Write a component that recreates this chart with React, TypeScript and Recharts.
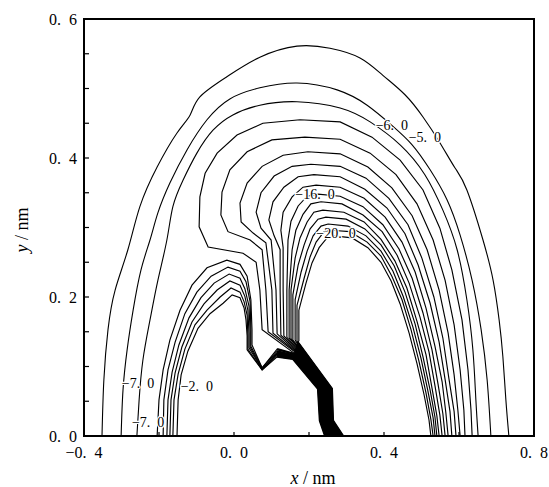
import { LineChart, Line, XAxis, YAxis, ReferenceArea } from 'recharts';

type Pt = [number, number];

// outer arches, x / nm, y / nm
const arch5: Pt[] = [[-0.352,0],[-0.347,0.081],[-0.336,0.153],[-0.317,0.21],[-0.283,0.268],[-0.251,0.33],[-0.205,0.387],[-0.152,0.436],[-0.117,0.462],[-0.091,0.488],[-0.019,0.517],[0.069,0.545],[0.168,0.561],[0.256,0.558],[0.336,0.544],[0.397,0.519],[0.456,0.491],[0.504,0.459],[0.549,0.422],[0.589,0.386],[0.621,0.354],[0.664,0.282],[0.691,0.224],[0.707,0.167],[0.717,0.114],[0.725,0.052],[0.733,0]];
const arch6: Pt[] = [[-0.301,0],[-0.296,0.066],[-0.285,0.124],[-0.269,0.181],[-0.248,0.239],[-0.224,0.282],[-0.203,0.321],[-0.171,0.364],[-0.125,0.412],[-0.072,0.455],[-0.011,0.485],[0.069,0.501],[0.168,0.508],[0.275,0.498],[0.355,0.476],[0.421,0.447],[0.475,0.419],[0.523,0.383],[0.568,0.34],[0.603,0.289],[0.635,0.224],[0.659,0.153],[0.675,0.081],[0.685,0]];
const arch7: Pt[] = [[-0.259,0],[-0.253,0.052],[-0.243,0.109],[-0.224,0.167],[-0.203,0.224],[-0.179,0.282],[-0.163,0.33],[-0.136,0.368],[-0.099,0.407],[-0.056,0.44],[-0.003,0.462],[0.069,0.476],[0.168,0.481],[0.283,0.472],[0.363,0.452],[0.443,0.419],[0.509,0.376],[0.557,0.325],[0.595,0.268],[0.621,0.196],[0.637,0.124],[0.645,0.052],[0.651,0]];

// inner hooks: right foot, over the top, down into the dense band
const hook8: Pt[] = [[0.635,0],[0.632,0.037],[0.624,0.095],[0.608,0.167],[0.581,0.239],[0.549,0.299],[0.504,0.354],[0.443,0.397],[0.368,0.43],[0.283,0.452],[0.176,0.455],[0.077,0.45],[0.008,0.433],[-0.045,0.407],[-0.077,0.378],[-0.091,0.344],[-0.093,0.301],[-0.069,0.272],[0.024,0.263],[0.059,0.25],[0.069,0.21],[0.075,0.153],[0.161,0.119],[0.236,0.068],[0.241,0.022],[0.259,0]];
const hook9: Pt[] = [[0.616,0],[0.613,0.037],[0.603,0.095],[0.587,0.16],[0.563,0.224],[0.531,0.282],[0.488,0.334],[0.432,0.376],[0.363,0.407],[0.283,0.427],[0.189,0.43],[0.101,0.426],[0.035,0.409],[-0.011,0.383],[-0.032,0.351],[-0.035,0.318],[-0.016,0.294],[0.043,0.282],[0.075,0.268],[0.085,0.21],[0.091,0.15],[0.162,0.121],[0.239,0.068],[0.242,0.022],[0.262,0]];
const hook10: Pt[] = [[0.603,0],[0.597,0.037],[0.587,0.088],[0.571,0.148],[0.547,0.21],[0.515,0.268],[0.475,0.317],[0.421,0.357],[0.357,0.387],[0.283,0.406],[0.197,0.409],[0.131,0.404],[0.075,0.388],[0.035,0.364],[0.016,0.335],[0.019,0.308],[0.051,0.292],[0.085,0.278],[0.101,0.21],[0.104,0.148],[0.163,0.122],[0.241,0.068],[0.244,0.022],[0.264,0]];
const hook11: Pt[] = [[0.592,0],[0.587,0.035],[0.573,0.083],[0.557,0.141],[0.533,0.2],[0.501,0.256],[0.464,0.304],[0.413,0.342],[0.352,0.371],[0.283,0.388],[0.205,0.391],[0.155,0.388],[0.107,0.374],[0.072,0.35],[0.059,0.322],[0.072,0.299],[0.099,0.282],[0.112,0.21],[0.115,0.147],[0.164,0.123],[0.243,0.068],[0.246,0.022],[0.267,0]];
const hook12: Pt[] = [[0.581,0],[0.576,0.035],[0.563,0.081],[0.547,0.135],[0.523,0.191],[0.491,0.246],[0.456,0.291],[0.408,0.328],[0.349,0.355],[0.283,0.373],[0.213,0.376],[0.171,0.373],[0.133,0.358],[0.104,0.337],[0.093,0.311],[0.107,0.288],[0.123,0.268],[0.123,0.21],[0.125,0.145],[0.164,0.125],[0.245,0.068],[0.248,0.022],[0.27,0]];
const hook13: Pt[] = [[0.571,0],[0.565,0.033],[0.555,0.078],[0.536,0.129],[0.512,0.184],[0.483,0.236],[0.448,0.279],[0.403,0.315],[0.347,0.342],[0.283,0.358],[0.219,0.361],[0.184,0.358],[0.155,0.344],[0.131,0.322],[0.125,0.296],[0.131,0.271],[0.131,0.21],[0.133,0.144],[0.165,0.126],[0.247,0.068],[0.25,0.022],[0.272,0]];
const hook14: Pt[] = [[0.563,0],[0.557,0.032],[0.544,0.075],[0.528,0.124],[0.504,0.177],[0.475,0.227],[0.44,0.269],[0.397,0.304],[0.344,0.33],[0.283,0.345],[0.224,0.348],[0.195,0.345],[0.171,0.331],[0.152,0.309],[0.144,0.282],[0.141,0.21],[0.141,0.142],[0.166,0.127],[0.249,0.068],[0.252,0.022],[0.275,0]];
const hook15: Pt[] = [[0.555,0],[0.549,0.03],[0.536,0.072],[0.52,0.121],[0.496,0.171],[0.467,0.22],[0.435,0.26],[0.395,0.294],[0.344,0.318],[0.288,0.334],[0.232,0.337],[0.205,0.334],[0.184,0.319],[0.165,0.296],[0.155,0.268],[0.147,0.21],[0.147,0.141],[0.167,0.129],[0.251,0.068],[0.254,0.022],[0.278,0]];
const hook16: Pt[] = [[0.547,0],[0.541,0.029],[0.528,0.069],[0.512,0.117],[0.488,0.165],[0.461,0.213],[0.429,0.252],[0.392,0.283],[0.347,0.308],[0.293,0.322],[0.237,0.325],[0.213,0.322],[0.195,0.308],[0.176,0.285],[0.163,0.256],[0.152,0.21],[0.152,0.14],[0.167,0.13],[0.253,0.068],[0.256,0.022],[0.28,0]];
const hook17: Pt[] = [[0.541,0],[0.536,0.027],[0.523,0.066],[0.504,0.114],[0.483,0.161],[0.456,0.207],[0.427,0.245],[0.392,0.275],[0.349,0.298],[0.299,0.312],[0.245,0.315],[0.224,0.312],[0.203,0.298],[0.187,0.275],[0.171,0.246],[0.157,0.203],[0.157,0.138],[0.168,0.131],[0.255,0.068],[0.258,0.022],[0.283,0]];
const hook18: Pt[] = [[0.536,0],[0.531,0.026],[0.517,0.065],[0.499,0.111],[0.477,0.157],[0.451,0.201],[0.424,0.237],[0.392,0.266],[0.352,0.288],[0.304,0.302],[0.251,0.305],[0.232,0.302],[0.211,0.288],[0.195,0.266],[0.179,0.236],[0.163,0.196],[0.163,0.138],[0.169,0.133],[0.257,0.068],[0.26,0.022],[0.286,0]];
const hook19: Pt[] = [[0.531,0],[0.525,0.024],[0.512,0.062],[0.493,0.108],[0.472,0.153],[0.448,0.196],[0.421,0.23],[0.392,0.259],[0.355,0.279],[0.309,0.294],[0.259,0.296],[0.24,0.294],[0.219,0.279],[0.203,0.258],[0.187,0.227],[0.168,0.188],[0.168,0.137],[0.17,0.134],[0.259,0.068],[0.262,0.022],[0.288,0]];
const hook20: Pt[] = [[0.525,0],[0.52,0.023],[0.507,0.059],[0.488,0.104],[0.467,0.148],[0.443,0.19],[0.419,0.223],[0.392,0.25],[0.357,0.271],[0.315,0.285],[0.267,0.288],[0.248,0.285],[0.227,0.271],[0.208,0.249],[0.192,0.22],[0.173,0.181],[0.173,0.137],[0.17,0.135],[0.261,0.068],[0.264,0.022],[0.291,0]];

// small left dome, feeding the knot and the band
const dome1: Pt[] = [[-0.205,0],[-0.2,0.052],[-0.189,0.095],[-0.171,0.138],[-0.144,0.181],[-0.112,0.217],[-0.072,0.242],[-0.019,0.253],[0.016,0.247],[0.035,0.23],[0.045,0.196],[0.048,0.153],[0.048,0.131],[0.075,0.098],[0.115,0.125],[0.161,0.118],[0.234,0.068],[0.239,0.022],[0.256,0]];
const dome2: Pt[] = [[-0.189,0],[-0.187,0.052],[-0.176,0.095],[-0.157,0.135],[-0.131,0.176],[-0.099,0.207],[-0.061,0.23],[-0.016,0.243],[0.016,0.237],[0.032,0.222],[0.043,0.193],[0.045,0.153],[0.045,0.129],[0.075,0.098],[0.115,0.122],[0.16,0.116],[0.232,0.068],[0.237,0.022],[0.254,0]];
const dome3: Pt[] = [[-0.179,0],[-0.176,0.052],[-0.165,0.092],[-0.147,0.131],[-0.12,0.17],[-0.088,0.199],[-0.053,0.22],[-0.013,0.233],[0.016,0.227],[0.029,0.212],[0.04,0.187],[0.043,0.15],[0.043,0.128],[0.075,0.096],[0.115,0.12],[0.159,0.115],[0.23,0.068],[0.235,0.022],[0.251,0]];
const dome4: Pt[] = [[-0.171,0],[-0.168,0.052],[-0.157,0.091],[-0.139,0.128],[-0.112,0.164],[-0.08,0.19],[-0.045,0.21],[-0.011,0.223],[0.016,0.217],[0.029,0.201],[0.037,0.181],[0.04,0.148],[0.04,0.127],[0.075,0.096],[0.115,0.118],[0.158,0.114],[0.228,0.068],[0.233,0.022],[0.248,0]];
const dome5: Pt[] = [[-0.163,0],[-0.16,0.052],[-0.149,0.089],[-0.131,0.125],[-0.104,0.16],[-0.072,0.181],[-0.037,0.2],[-0.008,0.213],[0.016,0.207],[0.027,0.193],[0.035,0.174],[0.037,0.145],[0.037,0.125],[0.075,0.095],[0.115,0.116],[0.158,0.112],[0.226,0.068],[0.231,0.022],[0.246,0]];
const dome6: Pt[] = [[-0.152,0],[-0.149,0.052],[-0.141,0.088],[-0.123,0.122],[-0.096,0.155],[-0.064,0.176],[-0.029,0.191],[-0.005,0.203],[0.016,0.199],[0.027,0.184],[0.032,0.167],[0.035,0.144],[0.035,0.124],[0.075,0.095],[0.115,0.114],[0.157,0.111],[0.224,0.068],[0.229,0.022],[0.243,0]];

const arches: Pt[][] = [arch5, arch6, arch7];
const hooks: Pt[][] = [hook8, hook9, hook10, hook11, hook12, hook13, hook14, hook15, hook16, hook17, hook18, hook19, hook20];
const domes: Pt[][] = [dome1, dome2, dome3, dome4, dome5, dome6];

const contourLabels = [
  { x: 0.421, y: 0.447, text: '−6.\u20020' },
  { x: 0.509, y: 0.43, text: '−5.\u20020' },
  { x: 0.216, y: 0.347, text: '−16.\u20020' },
  { x: 0.272, y: 0.291, text: '−20.\u20020' },
  { x: -0.256, y: 0.076, text: '−7.\u20020' },
  { x: -0.099, y: 0.071, text: '−2.\u20020' },
  { x: -0.229, y: 0.02, text: '−7.\u20020' },
];

const xTicks = [-0.4, -0.2, 0, 0.2, 0.4, 0.6, 0.8];
const xTickText = ['−0.\u20024', '', '0.\u20020', '', '0.\u20024', '', '0.\u20028'];
const yTicks = [0, 0.05, 0.1, 0.15, 0.2, 0.25, 0.3, 0.35, 0.4, 0.45, 0.5, 0.55, 0.6];
const yTickText = ['0.\u20020', '', '', '', '0.\u20022', '', '', '', '0.\u20024', '', '', '', '0.\u20026'];

const serif = '"Liberation Serif", "DejaVu Serif", "Times New Roman", serif';

const toRows = (c: Pt[]) => c.map(([x, y]) => ({ x, y }));

const XTick = ({ x, y, index }: any) => (
  <g>
    <line x1={x} y1={y} x2={x} y2={y - 4} stroke="#000" strokeWidth={1.2} />
    {xTickText[index] && (
      <text x={x} y={y + 22} textAnchor="middle" fontSize={16} fontFamily={serif} fill="#000">
        {xTickText[index]}
      </text>
    )}
  </g>
);

const YTick = ({ x, y, index }: any) => (
  <g>
    <line x1={x} y1={y} x2={x + 5} y2={y} stroke="#000" strokeWidth={1.2} />
    {yTickText[index] && (
      <text x={x - 7} y={y} textAnchor="end" dominantBaseline="central" fontSize={16} fontFamily={serif} fill="#000">
        {yTickText[index]}
      </text>
    )}
  </g>
);

const renderLabel = (p: any) => (
  <text
    key={`lbl-${p.index}`}
    x={p.cx}
    y={p.cy}
    textAnchor="middle"
    dominantBaseline="central"
    fontSize={14}
    fontFamily={serif}
    fill="#000"
    stroke="#fff"
    strokeWidth={2.5}
    paintOrder="stroke"
  >
    {p.payload.text}
  </text>
);

const contourLine = (rows: { x: number; y: number }[], key: string, width = 1.15, curve: 'linear' | 'natural' = 'linear') => (
  <Line
    key={key}
    data={rows}
    dataKey="y"
    type={curve}
    stroke="#000"
    strokeWidth={width}
    dot={false}
    activeDot={false}
    isAnimationActive={false}
  />
);

export default function App() {
  return (
    <div style={{ position: 'relative', width: 549, height: 487, background: '#fff' }}>
      <style>{'body{margin:0;background:#fff}'}</style>
      <LineChart width={549} height={487} margin={{ top: 19, right: 15, bottom: 21, left: 24 }}>
        <XAxis
          type="number"
          dataKey="x"
          domain={[-0.4, 0.8]}
          ticks={xTicks}
          interval={0}
          allowDataOverflow
          height={30}
          axisLine={false}
          tickLine={false}
          tickSize={0}
          tickMargin={0}
          tick={<XTick />}
        />
        <YAxis
          type="number"
          dataKey="y"
          domain={[0, 0.6]}
          ticks={yTicks}
          interval={0}
          allowDataOverflow
          width={60}
          axisLine={false}
          tickLine={false}
          tickSize={0}
          tickMargin={0}
          tick={<YTick />}
        />
        {arches.map((c, i) => contourLine(toRows(c), `a${i}`, 1.1, 'natural'))}
        {hooks.map((c, i) => contourLine(toRows(c), `h${i}`))}
        {domes.map((c, i) => contourLine(toRows(c), `d${i}`))}
        {/* the lines crowd together in the steep wall: draw that stretch heavier */}
        {hooks.map((c, i) => contourLine(toRows(c.slice(-4)), `hb${i}`, 2.2))}
        {domes.map((c, i) => contourLine(toRows(c.slice(-5)), `db${i}`, 2.2))}
        <Line
          data={contourLabels}
          dataKey="y"
          stroke="none"
          dot={renderLabel}
          activeDot={false}
          isAnimationActive={false}
        />
        <ReferenceArea x1={-0.4} x2={0.8} y1={0} y2={0.6} fill="none" stroke="#000" strokeWidth={2} />
      </LineChart>
      <div
        style={{
          position: 'absolute', left: 313, top: 478, transform: 'translate(-50%, -50%)',
          fontFamily: serif, fontSize: 18, whiteSpace: 'nowrap',
        }}
      >
        <i>x</i> / nm
      </div>
      <div
        style={{
          position: 'absolute', left: 22, top: 230, transform: 'translate(-50%, -50%) rotate(-90deg)',
          fontFamily: serif, fontSize: 18, whiteSpace: 'nowrap',
        }}
      >
        <i>y</i> / nm
      </div>
    </div>
  );
}
